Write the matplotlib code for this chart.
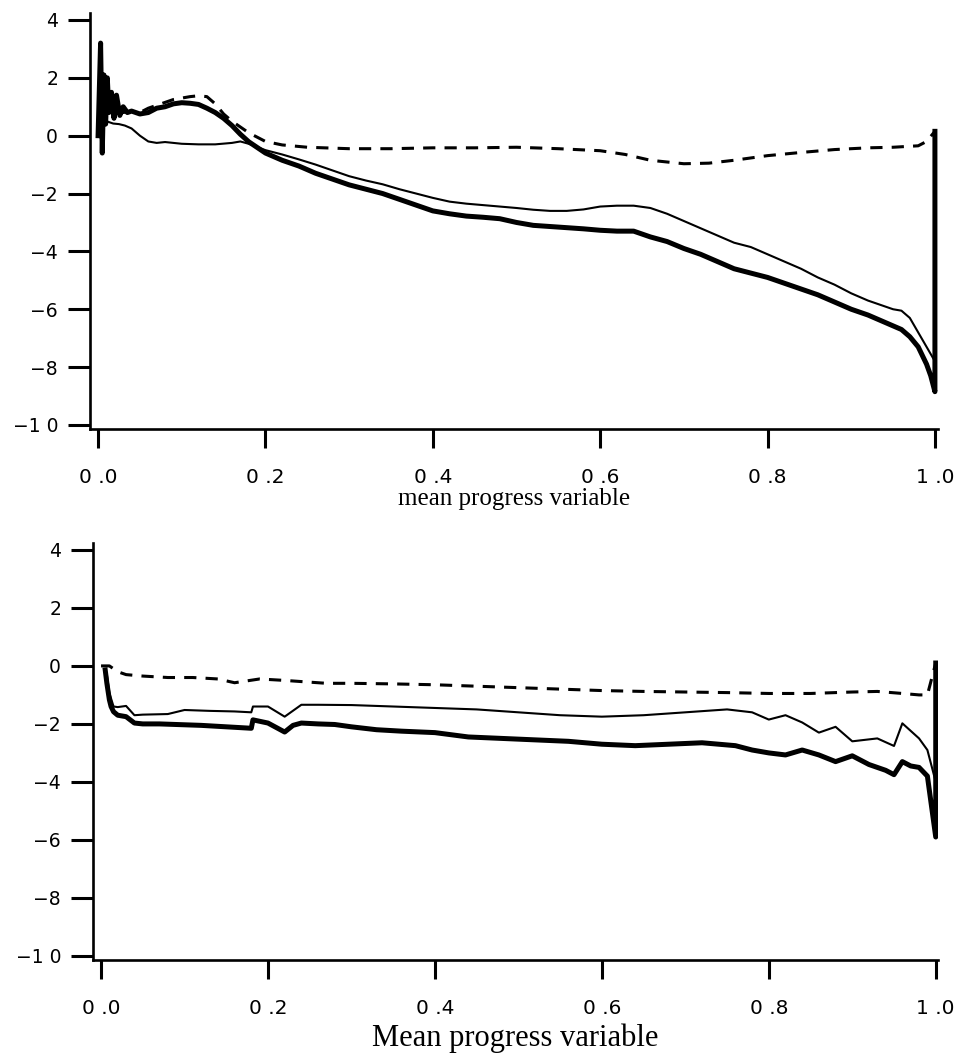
import numpy as np
import matplotlib.pyplot as plt


# ---- top panel ----
top_thick_x = [0.0, 0.003, 0.005, 0.007, 0.009, 0.011, 0.013, 0.016, 0.019, 0.022, 0.026, 0.03, 0.035,
               0.04, 0.05, 0.06, 0.07, 0.08, 0.09, 0.1, 0.11, 0.12, 0.13, 0.14, 0.15, 0.16, 0.17, 0.18,
               0.2, 0.22, 0.24, 0.26, 0.28, 0.3, 0.32, 0.34, 0.36, 0.38, 0.4, 0.42, 0.44, 0.46, 0.48,
               0.5, 0.52, 0.54, 0.56, 0.58, 0.6, 0.62, 0.64, 0.66, 0.68, 0.7, 0.72, 0.74, 0.76, 0.78,
               0.8, 0.82, 0.84, 0.86, 0.88, 0.9, 0.92, 0.94, 0.96, 0.97, 0.98, 0.99, 0.995, 1.0, 1.0]
top_thick_y = [0.0, 3.2, -0.6, 2.1, 0.4, 2.0, 0.8, 1.5, 0.6, 1.4, 0.7, 1.0, 0.8,
               0.85, 0.75, 0.8, 0.95, 1.0, 1.1, 1.14, 1.12, 1.08, 0.95, 0.8, 0.6, 0.35, 0.05, -0.21,
               -0.6, -0.85, -1.05, -1.3, -1.5, -1.7, -1.85, -2.0, -2.2, -2.4, -2.6, -2.7, -2.78, -2.82, -2.87,
               -3.0, -3.1, -3.14, -3.18, -3.22, -3.27, -3.3, -3.3, -3.5, -3.66, -3.9, -4.1, -4.35, -4.6, -4.75,
               -4.9, -5.1, -5.3, -5.5, -5.75, -6.0, -6.2, -6.45, -6.7, -6.95, -7.3, -7.9, -8.3, -8.85, 0.15]

top_thin_x = [0.004, 0.01, 0.018, 0.025, 0.032, 0.04, 0.05, 0.06, 0.07, 0.08, 0.09, 0.1, 0.12, 0.14,
              0.16, 0.17, 0.18, 0.2, 0.22, 0.24, 0.26, 0.28, 0.3, 0.32, 0.34, 0.36, 0.38, 0.4, 0.42,
              0.44, 0.46, 0.48, 0.5, 0.52, 0.54, 0.56, 0.58, 0.6, 0.62, 0.64, 0.66, 0.68, 0.7, 0.72,
              0.74, 0.76, 0.78, 0.8, 0.82, 0.84, 0.86, 0.88, 0.9, 0.92, 0.94, 0.95, 0.96, 0.97, 0.98,
              0.99, 1.0]
top_thin_y = [0.3, 0.5, 0.42, 0.4, 0.35, 0.25, 0.0, -0.2, -0.25, -0.22, -0.25, -0.28, -0.3, -0.3,
              -0.25, -0.2, -0.28, -0.5, -0.65, -0.82, -1.0, -1.2, -1.4, -1.55, -1.68, -1.85, -2.0, -2.15, -2.28,
              -2.35, -2.4, -2.45, -2.5, -2.56, -2.6, -2.6, -2.55, -2.45, -2.42, -2.42, -2.5, -2.7, -2.95, -3.2,
              -3.45, -3.7, -3.85, -4.1, -4.35, -4.6, -4.9, -5.15, -5.45, -5.7, -5.9, -6.0, -6.05, -6.3, -6.8,
              -7.3, -7.8]

top_dash_x = [0.005, 0.01, 0.02, 0.03, 0.04, 0.05, 0.06, 0.07, 0.08, 0.09, 0.1, 0.11, 0.12, 0.13, 0.14,
              0.15, 0.16, 0.17, 0.18, 0.2, 0.22, 0.25, 0.3, 0.35, 0.4, 0.45, 0.5, 0.55, 0.6, 0.63, 0.66,
              0.7, 0.73, 0.76, 0.8, 0.84, 0.88, 0.92, 0.95, 0.98, 0.99, 1.0]
top_dash_y = [0.9, 1.0, 0.9, 0.8, 0.85, 0.8, 0.95, 1.05, 1.15, 1.25, 1.3, 1.35, 1.38, 1.35, 1.1,
              0.75, 0.5, 0.3, 0.1, -0.2, -0.32, -0.4, -0.45, -0.45, -0.42, -0.42, -0.4, -0.45, -0.52, -0.65, -0.85,
              -0.97, -0.95, -0.85, -0.69, -0.58, -0.48, -0.42, -0.4, -0.35, -0.2, 0.15]

# ---- bottom panel ----
bot_thick_x = [0.005, 0.007, 0.01, 0.012, 0.015, 0.02, 0.03, 0.04, 0.05, 0.07, 0.09, 0.12, 0.15, 0.18,
               0.182, 0.2, 0.22, 0.23, 0.24, 0.26, 0.28, 0.3, 0.33, 0.36, 0.4, 0.44, 0.48, 0.52, 0.56,
               0.6, 0.64, 0.68, 0.72, 0.76, 0.78, 0.8, 0.82, 0.84, 0.86, 0.88, 0.9, 0.92, 0.94, 0.95,
               0.96, 0.97, 0.98, 0.99, 1.0, 1.0]
bot_thick_y = [-0.14, -0.6, -1.17, -1.4, -1.58, -1.7, -1.75, -1.97, -2.0, -2.0, -2.02, -2.05, -2.1, -2.15,
               -1.86, -1.97, -2.28, -2.05, -1.97, -2.0, -2.02, -2.1, -2.2, -2.25, -2.3, -2.45, -2.5, -2.55, -2.6,
               -2.7, -2.75, -2.7, -2.65, -2.75, -2.9, -3.0, -3.07, -2.9, -3.07, -3.3, -3.1, -3.4, -3.6, -3.75,
               -3.3, -3.45, -3.5, -3.8, -5.9, 0.1]

bot_thin_x = [0.007, 0.01, 0.015, 0.02, 0.03, 0.04, 0.05, 0.08, 0.1, 0.13, 0.16, 0.18, 0.182, 0.2,
              0.22, 0.24, 0.26, 0.3, 0.35, 0.4, 0.45, 0.5, 0.55, 0.6, 0.65, 0.7, 0.75, 0.78, 0.8, 0.82,
              0.84, 0.86, 0.88, 0.9, 0.93, 0.95, 0.96, 0.97, 0.98, 0.99, 1.0]
bot_thin_y = [-0.3, -0.94, -1.4, -1.42, -1.38, -1.7, -1.68, -1.66, -1.52, -1.55, -1.57, -1.6, -1.4, -1.4,
              -1.75, -1.34, -1.34, -1.35, -1.4, -1.45, -1.5, -1.6, -1.7, -1.75, -1.7, -1.6, -1.5, -1.6, -1.85, -1.7,
              -1.95, -2.3, -2.1, -2.6, -2.5, -2.76, -1.98, -2.24, -2.5, -2.9, -4.0]

bot_dash_x = [0.0, 0.01, 0.02, 0.03, 0.05, 0.08, 0.11, 0.14, 0.16, 0.19, 0.22, 0.27, 0.3, 0.35, 0.4,
              0.45, 0.5, 0.55, 0.6, 0.65, 0.7, 0.75, 0.8, 0.85, 0.9, 0.93, 0.96, 0.98, 0.99, 1.0]
bot_dash_y = [0.0, 0.0, -0.2, -0.3, -0.35, -0.4, -0.4, -0.45, -0.58, -0.45, -0.5, -0.6, -0.6, -0.62, -0.65,
              -0.7, -0.75, -0.8, -0.85, -0.88, -0.9, -0.92, -0.95, -0.95, -0.9, -0.88, -0.95, -1.0, -1.0, 0.1]

yticks = [4, 2, 0, -2, -4, -6, -8, -10]
ytick_labels = ['4', '2', '0', '\u22122', '\u22124', '\u22126', '\u22128', '\u22121 0']
xticks = [0.0, 0.2, 0.4, 0.6, 0.8, 1.0]
xtick_labels = ['0 .0', '0 .2', '0 .4', '0 .6', '0 .8', '1 .0']


def style_axes(ax, xlabel, xlim, label_size, label_pad):
    ax.set_xlim(*xlim)
    ax.set_ylim(-10.14, 4.24)
    for side in ['top', 'right']:
        ax.spines[side].set_visible(False)
    for side in ['left', 'bottom']:
        ax.spines[side].set_linewidth(1.9)
    ax.set_yticks(yticks)
    ax.set_yticklabels(ytick_labels)
    ax.set_xticks(xticks)
    ax.set_xticklabels(xtick_labels)
    ax.tick_params(axis='y', direction='out', length=16, width=2.2, pad=7, labelsize=13.5)
    ax.tick_params(axis='x', direction='out', length=14, width=2.2, pad=14, labelsize=14.5)
    ax.set_xlabel(xlabel, fontfamily='Liberation Serif', fontsize=label_size, labelpad=label_pad)


fig = plt.figure(figsize=(9.61, 10.59), dpi=100)

ax1 = fig.add_axes([0.0937, 0.5949, 0.8823, 0.3928])
ax1.plot(top_dash_x, top_dash_y, color='black', lw=2.2, dashes=(4, 3))
ax1.plot(top_thin_x, top_thin_y, color='black', lw=1.5)
ax1.plot(top_thick_x, top_thick_y, color='black', lw=3.6)
style_axes(ax1, 'mean progress variable', (-0.0096, 1.0036), 18, 1)

ax2 = fig.add_axes([0.0968, 0.0935, 0.879, 0.3938])
ax2.plot(bot_dash_x, bot_dash_y, color='black', lw=2.2, dashes=(4, 3))
ax2.plot(bot_thin_x, bot_thin_y, color='black', lw=1.5)
ax2.plot(bot_thick_x, bot_thick_y, color='black', lw=3.6)
style_axes(ax2, 'Mean progress variable', (-0.0096, 1.0024), 22, 4)

fig.savefig('out.png', dpi=100)
